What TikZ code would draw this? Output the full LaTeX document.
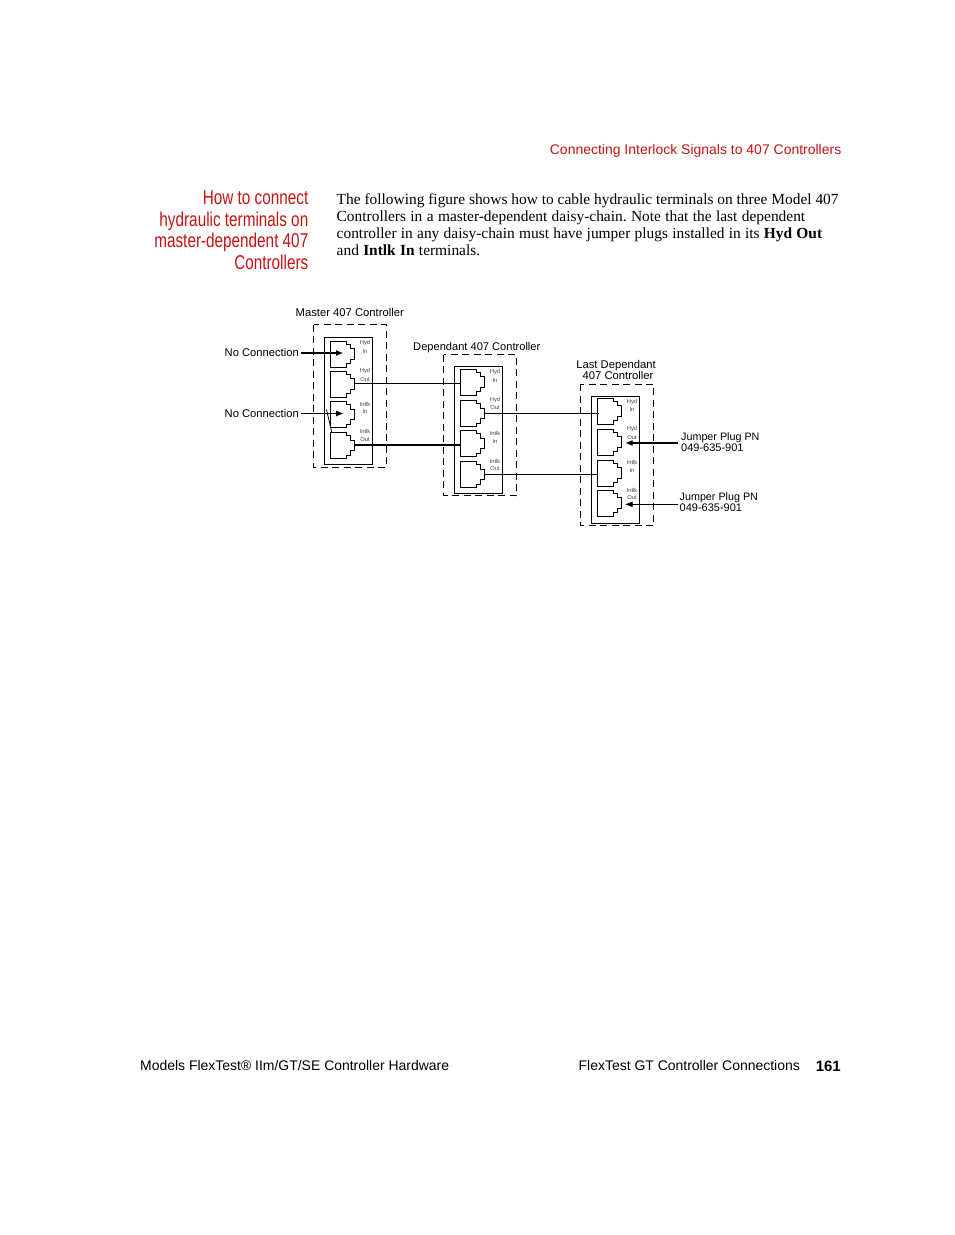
\documentclass[tikz,border=0pt]{standalone}
\usepackage{fontspec}
\setmainfont{Liberation Serif}
\setsansfont{Liberation Sans}
\newfontfamily\narrowfont[FakeStretch=0.765]{Liberation Sans}
\usetikzlibrary{arrows.meta}
\definecolor{mtsred}{RGB}{200,20,20}
\tikzset{
  portpic/.pic={
    \draw[portline] (0,0) -- (16.5,0) -- (16.5,3) -- (20,3) -- (20,7.5) -- (24.5,7.5) -- (24.5,18) -- (20,18) -- (20,22.5) -- (16.5,22.5) -- (16.5,26) -- (0,26) -- cycle;
    \coordinate (-w) at (0,13);
    \coordinate (-e) at (24.5,12.5);
    \coordinate (-c) at (13.5,12);
    \coordinate (-i) at (2,15);
    \coordinate (-j) at (28,14);
  },
  portline/.style={line width=0.8pt,black},
  thinline/.style={line width=0.8pt,black},
  thickline/.style={line width=2pt,black},
  arrowtip/.style={-{Latex[length=7.5pt,width=6pt]}},
  dashbox/.style={draw,line width=0.75pt,dash pattern=on 7pt off 4.5pt},
  tiny/.style={font=\sffamily\fontsize{5.8}{6}\selectfont,text=black!72,inner sep=0pt},
  lab/.style={font=\sffamily\fontsize{11.2}{11}\selectfont,inner sep=0pt,anchor=base west,align=left},
  jlab/.style={font=\sffamily\fontsize{10.75}{11}\selectfont,inner sep=0pt,anchor=base west},
  jnum/.style={font=\sffamily\fontsize{11}{11}\selectfont,inner sep=0pt,anchor=base west},
  labc/.style={font=\sffamily\fontsize{11.25}{11}\selectfont,inner sep=0pt,anchor=base,align=center},
  body/.style={font=\fontsize{15.42}{15}\selectfont,inner sep=0pt,anchor=base west},
  head/.style={font=\narrowfont\fontsize{20}{20}\selectfont,text=mtsred,inner sep=0pt,anchor=base east},
  foot/.style={font=\sffamily\fontsize{13.96}{14}\selectfont,inner sep=0pt,anchor=base west},
}
\begin{document}
\begin{tikzpicture}[x=1pt,y=-1pt]
\frenchspacing
\useasboundingbox (0,0) rectangle (954,1235);
\fill[white] (0,0) rectangle (954,1235);

% page text
\node[font=\sffamily\fontsize{13.98}{14}\selectfont,text=mtsred,inner sep=0pt,anchor=base east] (hdr) at (841.5,154) {Connecting Interlock Signals to 407 Controllers};
\node[head] (h1) at (308.5,204) {How to connect};
\node[head] (h2) at (308.5,226) {hydraulic terminals on};
\node[head] (h3) at (308.5,247.5) {master-dependent 407};
\node[head] (h4) at (308.5,269) {Controllers};
\node[body] (b1) at (336.5,204) {The following figure shows how to cable hydraulic terminals on three Model 407};
\node[body] (b2) at (336.5,221) {\makebox[468.5pt][s]{Controllers in a master-dependent daisy-chain. Note that the last dependent}};
\node[body] (b3) at (336.5,238) {\makebox[485.5pt][s]{controller in any daisy-chain must have jumper plugs installed in its \textbf{Hyd Out}}};
\node[body] (b4) at (336.5,255) {\makebox[143.5pt][s]{and \textbf{Intlk In} terminals.}};
\node[foot] (f1) at (140,1070) {Models FlexTest® IIm/GT/SE Controller Hardware};
\node[foot] (f2) at (578.5,1070) {FlexTest GT Controller Connections};
\node[font=\sffamily\bfseries\fontsize{15}{15}\selectfont,inner sep=0pt,anchor=base east] (f3) at (841,1071) {161};

% enclosures
\draw[dashbox] (313.5,324.5) rectangle (386.5,467);
\draw[dashbox] (443.5,354.5) rectangle (516.5,495.5);
\draw[dashbox] (580.5,384) rectangle (653.5,525.5);
\draw[line width=0.8pt] (324,337) rectangle (372,464);
\draw[line width=0.8pt] (454,366.5) rectangle (502,493);
\draw[line width=0.8pt] (591,396.5) rectangle (639,523);

% controller titles
\node[labc] (t1) at (349.8,316) {Master 407 Controller};
\node[labc,font=\sffamily\fontsize{11.1}{11}\selectfont] (t2) at (476.8,350) {Dependant 407 Controller};
\node[labc] (t3a) at (616,368.5) {Last Dependant};
\node[labc] (t3b) at (618,379.5) {407 Controller};

% ports
\pic (m1) at (330,341) {portpic};
\pic (m2) at (330,371) {portpic};
\pic (m3) at (330,401.5) {portpic};
\pic (m4) at (330,432.5) {portpic};
\pic (d1) at (460,369) {portpic};
\pic (d2) at (460,400.7) {portpic};
\pic (d3) at (460,430.7) {portpic};
\pic (d4) at (460,461.7) {portpic};
\pic (l1) at (597,398.3) {portpic};
\pic (l2) at (597,429) {portpic};
\pic (l3) at (597,460) {portpic};
\pic (l4) at (597,490.3) {portpic};

% port captions
\node[tiny] (a1) at (365,343) {Hyd};   \node[tiny] (a2) at (365,351) {In};
\node[tiny] (a3) at (365,371) {Hyd};   \node[tiny] (a4) at (365,379) {Out};
\node[tiny] (a5) at (365,404) {Intlk}; \node[tiny] (a6) at (365,411) {In};
\node[tiny] (a7) at (365,431) {Intlk}; \node[tiny] (a8) at (365,439) {Out};
\node[tiny] (c1) at (495,372) {Hyd};   \node[tiny] (c2) at (495,380) {In};
\node[tiny] (c3) at (495,400) {Hyd};   \node[tiny] (c4) at (495,407) {Out};
\node[tiny] (c5) at (495,433) {Intlk}; \node[tiny] (c6) at (495,441) {In};
\node[tiny] (c7) at (495,461) {Intlk}; \node[tiny] (c8) at (495,468) {Out};
\node[tiny] (e1) at (632,402) {Hyd};   \node[tiny] (e2) at (632,409) {In};
\node[tiny] (e3) at (632,429) {Hyd};   \node[tiny] (e4) at (632,437) {Out};
\node[tiny] (e5) at (632,462) {Intlk}; \node[tiny] (e6) at (632,470) {In};
\node[tiny] (e7) at (632,490) {Intlk}; \node[tiny] (e8) at (632,497) {Out};

% side labels
\node[lab,anchor=base east] (nc1) at (299,356) {No Connection};
\node[lab,anchor=base east] (nc2) at (299,417) {No Connection};
\node[jlab] (jp1a) at (681,440) {Jumper Plug PN};
\node[jnum] (jp1b) at (681,451) {049-635-901};
\node[jlab] (jp2a) at (679.5,500) {Jumper Plug PN};
\node[jnum] (jp2b) at (679.5,511) {049-635-901};
\coordinate (nc1e) at (301,353);
\coordinate (nc2e) at (301,413.5);
\coordinate (jp1w) at (678,443);
\coordinate (jp2w) at (678,504.3);
\coordinate (dia1) at (326.5,409.5);
\coordinate (dia2) at (331.7,432);

% connectors
\draw[thinline] (m2-e) -- (m2-e -| d1-w);
\draw[thickline] (m4-e) -- (m4-e -| d3-w);
\draw[thinline] (d2-e) -- (d2-e -| l1-i);
\draw[line width=1.3pt,black!45] (d4-e) -- (d4-e -| l3-w);
\draw[thinline] (d4-e) ++(0,0.5) -- ++(112,0);
\draw[thickline,arrowtip] (nc1e) -- (m1-c);
\draw[thinline,arrowtip] (nc2e) -- (m3-c);
\draw[thinline] (dia1) -- (dia2);
\draw[thickline,arrowtip] (jp1w) -- (l2-j);
\draw[thinline,arrowtip] (jp2w) -- (l4-j);
\end{tikzpicture}
\end{document}
